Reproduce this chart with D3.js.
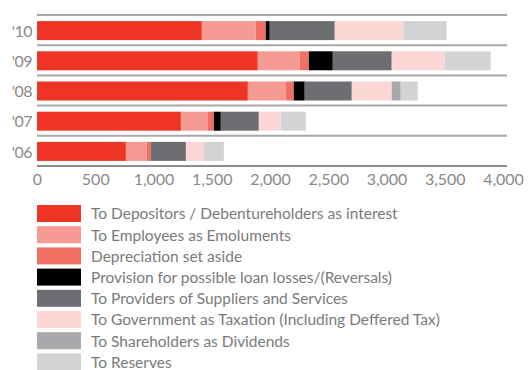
<!DOCTYPE html>
<html>
<head>
<meta charset="utf-8">
<script src="https://cdn.jsdelivr.net/npm/d3@7"></script>
<style>
  body { margin: 0; background: #fff; }
  svg { display: block; font-family: Lato, "Open Sans", sans-serif; }
</style>
</head>
<body>
<svg id="chart" width="528" height="370"></svg>
<script>
// years top to bottom
const years = ["'10", "'09", "'08", "'07", "'06"];

const seriesNames = [
  "To Depositors / Debentureholders as interest",
  "To Employees as Emoluments",
  "Depreciation set aside",
  "Provision for possible loan losses/(Reversals)",
  "To Providers of Suppliers and Services",
  "To Government as Taxation (Including Deffered Tax)",
  "To Shareholders as Dividends",
  "To Reserves"
];

const seriesColors = ["#ee3524", "#f69b93", "#f26f63", "#000000", "#6d6e71", "#fdd7d5", "#a7a9ac", "#d1d3d4"];

// values per series, same order as years
const depositors  = [1415, 1895, 1810, 1235, 763];
const employees   = [463, 361, 326, 232, 180];
const depreciation = [86, 77, 68, 51, 35];
const provision   = [34, 206, 94, 60, 0];
const providers   = [558, 506, 404, 326, 300];
const government  = [592, 454, 343, 189, 154];
const shareholders = [0, 0, 77, 0, 0];
const reserves    = [368, 395, 146, 214, 172];

const xTicks = [0, 500, 1000, 1500, 2000, 2500, 3000, 3500, 4000];

const seriesValues = [depositors, employees, depreciation, provision, providers, government, shareholders, reserves];

const rows = years.map((y, i) => {
  const row = { year: y };
  seriesNames.forEach((s, j) => { row[s] = seriesValues[j][i]; });
  return row;
});

const svg = d3.select("#chart");
const margin = { top: 15, left: 37 };
const chartBottom = 166;

const x = d3.scaleLinear().domain([0, 4000]).range([margin.left, 503]);
const y = d3.scaleBand().domain(years).range([margin.top, chartBottom]);
const color = d3.scaleOrdinal().domain(seriesNames).range(seriesColors);

const layers = d3.stack().keys(seriesNames)(rows);

// separator lines between rows
svg.append("g")
  .selectAll("line")
  .data(years)
  .join("line")
  .attr("x1", margin.left)
  .attr("x2", 507)
  .attr("y1", d => y(d))
  .attr("y2", d => y(d))
  .attr("stroke", "#a8a8a8")
  .attr("stroke-width", 2);

// bars
const barH = 19;
svg.append("g")
  .selectAll("g")
  .data(layers)
  .join("g")
  .attr("fill", d => color(d.key))
  .selectAll("rect")
  .data(d => d)
  .join("rect")
  .attr("x", d => x(d[0]))
  .attr("y", d => y(d.data.year) + (y.bandwidth() - barH) / 2 + 0.5)
  .attr("width", d => Math.max(0, x(d[1]) - x(d[0])))
  .attr("height", barH);

// year labels
svg.append("g")
  .selectAll("text")
  .data(years)
  .join("text")
  .attr("x", 32)
  .attr("y", d => y(d) + y.bandwidth() / 2 + 1)
  .attr("dy", "0.35em")
  .attr("text-anchor", "end")
  .attr("fill", "#8a8a8a")
  .style("font-size", "16px")
  .style("letter-spacing", "-0.5px")
  .text(d => d);

// x axis
const axis = svg.append("g")
  .attr("transform", `translate(0,${chartBottom})`)
  .call(d3.axisBottom(x).tickValues(xTicks).tickSize(0).tickPadding(8).tickFormat(d3.format(",")));
axis.select(".domain").remove();
axis.append("line")
  .attr("x1", margin.left)
  .attr("x2", 507)
  .attr("stroke", "#8c8c8c")
  .attr("stroke-width", 2);
axis.selectAll("text")
  .attr("fill", "#8a8a8a")
  .style("font-size", "16px")
  .style("font-family", "Lato, 'Open Sans', sans-serif");

// legend
const legend = svg.append("g").attr("transform", "translate(37,205)");
const legendRow = legend.selectAll("g")
  .data(seriesNames)
  .join("g")
  .attr("transform", (d, i) => `translate(0,${i * 21.2})`);

legendRow.append("rect")
  .attr("width", 44)
  .attr("height", 17)
  .attr("fill", d => color(d));

legendRow.append("text")
  .attr("x", 54)
  .attr("y", 9)
  .attr("dy", "0.35em")
  .attr("fill", "#7a7a7a")
  .style("font-size", "15.5px")
  .text(d => d);
</script>
</body>
</html>
